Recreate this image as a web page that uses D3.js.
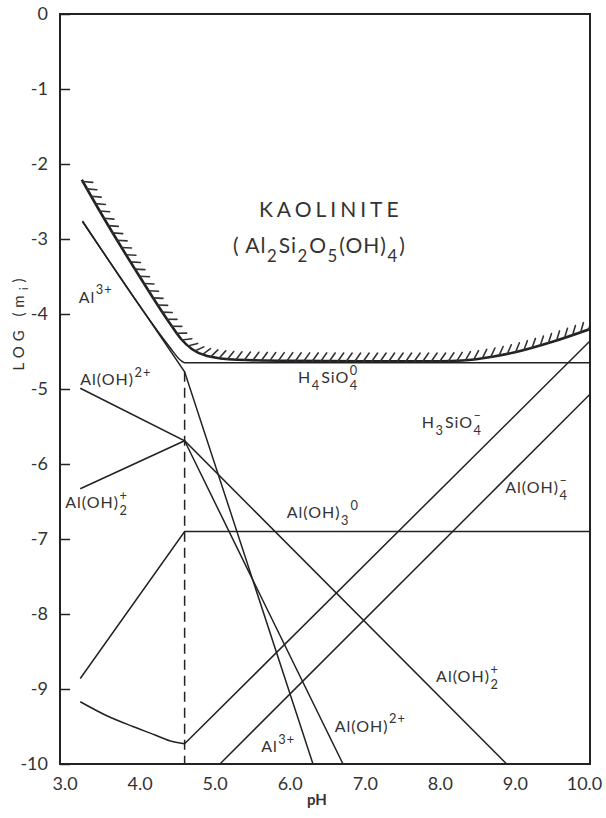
<!DOCTYPE html>
<html>
<head>
<meta charset="utf-8">
<script src="https://cdn.jsdelivr.net/npm/d3@7"></script>
<style>
  body { margin: 0; background: #fff; }
  text { font-family: "Lato", "Noto Sans", sans-serif; fill: #333; }
</style>
</head>
<body>
<svg id="chart" width="606" height="818"></svg>
<script>
// ---- axis ticks ----
const xTicks = [3, 4, 5, 6, 7, 8, 9, 10];
const xTickLabels = ["3.0", "4.0", "5.0", "6.0", "7.0", "8.0", "9.0", "10.0"];
const yTicks = [0, -1, -2, -3, -4, -5, -6, -7, -8, -9, -10];
const yTickLabels = ["0", "-1", "-2", "-3", "-4", "-5", "-6", "-7", "-8", "-9", "-10"];

// ---- species curves: [pH, log m] ----
const pHBreak = 4.6;
const kaoliniteBoundary = [
  [3.23, -2.21], [3.5, -2.68], [4.0, -3.50], [4.4, -4.12], [4.55, -4.33],
  [4.7, -4.47], [4.9, -4.56], [5.3, -4.61], [6.0, -4.625], [7.0, -4.63],
  [8.0, -4.63], [8.3, -4.62], [8.7, -4.57], [9.0, -4.51], [9.5, -4.37], [10.0, -4.20]
];
const h4sio4 = [[3.24, -2.76], [4.0, -3.89], [4.4, -4.44], [4.55, -4.62], [4.6, -4.65], [10.0, -4.65]];
const al3 = [[3.24, -2.77], [4.6, -4.77], [6.31, -10]];
const alOH2plus = [[3.21, -4.99], [4.6, -5.69], [6.71, -10]];
const alOH2 = [[3.21, -6.33], [4.6, -5.69], [8.89, -10]];
const alOH3 = [[3.21, -8.86], [4.6, -6.90], [10.0, -6.90]];
const h3sio4 = [[3.21, -9.17], [3.55, -9.35], [3.91, -9.50], [4.2, -9.61], [4.4, -9.69], [4.6, -9.73], [10.0, -4.36]];
const alOH4 = [[5.07, -10], [10.0, -5.07]];

// ---- species labels: parts + anchor in (pH, log m) ----
const speciesLabels = [
  { at: [3.19, -3.85], parts: [["Al"], ["3+", "sup"]] },
  { at: [3.21, -4.95], parts: [["Al(OH)"], ["2+", "sup"]] },
  { at: [6.11, -4.92], parts: [["H"], ["4", "sub"], ["SiO"], [["0", "4"], "subsup"]] },
  { at: [7.76, -5.52], parts: [["H"], ["3", "sub"], ["SiO"], [["\u2013", "4"], "subsup"]] },
  { at: [8.87, -6.39], parts: [["Al(OH)"], [["\u2013", "4"], "subsup"]] },
  { at: [3.01, -6.59], parts: [["Al(OH)"], [["+", "2"], "subsup"]] },
  { at: [5.96, -6.72], parts: [["Al(OH)"], ["3", "sub"], ["0", "sup"]] },
  { at: [7.95, -8.91], parts: [["Al(OH)"], [["+", "2"], "subsup"]] },
  { at: [6.60, -9.57], parts: [["Al(OH)"], ["2+", "sup"]] },
  { at: [5.62, -9.84], parts: [["Al"], ["3+", "sup"]] }
];

const svg = d3.select("#chart");
const pLeft = 60, pRight = 590, pTop = 14, pBottom = 764;
const x = d3.scaleLinear().domain([2.94, 10]).range([pLeft, pRight]);
const y = d3.scaleLinear().domain([0, -10]).range([pTop, pBottom]);

svg.append("defs").append("clipPath").attr("id", "plot")
  .append("rect").attr("x", pLeft).attr("y", pTop)
  .attr("width", pRight - pLeft).attr("height", pBottom - pTop);

const plot = svg.append("g").attr("clip-path", "url(#plot)");
const line = d3.line().x(d => x(d[0])).y(d => y(d[1]));
const smooth = d3.line().x(d => x(d[0])).y(d => y(d[1])).curve(d3.curveMonotoneX);

// species lines
[al3, alOH2plus, alOH2, alOH3, alOH4].forEach(s => {
  plot.append("path").attr("d", line(s))
    .attr("fill", "none").attr("stroke", "#222").attr("stroke-width", 1.5);
});
plot.append("path").attr("d", smooth(h3sio4.slice(0, 6)) + line(h3sio4.slice(5)).replace("M", "L"))
  .attr("fill", "none").attr("stroke", "#222").attr("stroke-width", 1.5);
plot.append("path").attr("d", smooth(h4sio4))
  .attr("fill", "none").attr("stroke", "#222").attr("stroke-width", 1.5);

// boundary between congruent and incongruent regimes
plot.append("line")
  .attr("x1", x(pHBreak)).attr("x2", x(pHBreak))
  .attr("y1", y(-4.77)).attr("y2", y(-10))
  .attr("stroke", "#222").attr("stroke-width", 1.5)
  .attr("stroke-dasharray", "10,6");

// kaolinite saturation boundary with hatching on the supersaturated side
const boundary = plot.append("path").attr("d", smooth(kaoliniteBoundary))
  .attr("fill", "none").attr("stroke", "#222").attr("stroke-width", 2.6);
const node = boundary.node();
const total = node.getTotalLength();
const hatchG = plot.append("g").attr("stroke", "#333").attr("stroke-width", 1.6)
  .attr("stroke-linecap", "round");
const rot = -55 * Math.PI / 180, hl = 10;
for (let s = 2; s < total; s += 8.5) {
  const p = node.getPointAtLength(s);
  const q = node.getPointAtLength(Math.min(total, s + 0.8));
  const th = Math.atan2(q.y - p.y, q.x - p.x) + rot;
  hatchG.append("line")
    .attr("x1", p.x).attr("y1", p.y)
    .attr("x2", p.x + hl * Math.cos(th)).attr("y2", p.y + hl * Math.sin(th));
}

// frame
svg.append("rect").attr("x", pLeft).attr("y", pTop)
  .attr("width", pRight - pLeft).attr("height", pBottom - pTop)
  .attr("fill", "none").attr("stroke", "#222").attr("stroke-width", 2);

// y axis: inward ticks, labels on the left
const yAxis = svg.append("g").attr("transform", `translate(${pLeft},0)`)
  .call(d3.axisLeft(y).tickValues(yTicks).tickSizeInner(-10).tickSizeOuter(0)
    .tickPadding(12).tickFormat((d, i) => yTickLabels[i]));
yAxis.select(".domain").remove();
yAxis.selectAll("line").attr("stroke", "#222").attr("stroke-width", 1.5);
yAxis.selectAll("text").attr("font-size", 18).attr("fill", "#555")
  .style("font-family", "Lato, sans-serif");

// x axis: labels only; the last label is nudged inside the page edge
const xAxis = svg.append("g").attr("transform", `translate(0,${pBottom})`)
  .call(d3.axisBottom(x).tickValues(xTicks).tickSize(0).tickPadding(13)
    .tickFormat((d, i) => xTickLabels[i]));
xAxis.select(".domain").remove();
xAxis.selectAll("text").attr("font-size", 18).attr("fill", "#555")
  .style("font-family", "Lato, sans-serif")
  .attr("dx", d => d === 10 ? -6 : 0);

// rich text with subscripts / superscripts
function rich(parent, px, py, parts, size, opts = {}) {
  const g = parent.append("g");
  const small = size * 0.8;
  let cx = 0;
  parts.forEach(p => {
    const role = p[1];
    if (role === "subsup") {
      const a = g.append("text").attr("x", cx).attr("y", -size * 0.52)
        .attr("font-size", small).text(p[0][0]);
      const b = g.append("text").attr("x", cx).attr("y", size * 0.42)
        .attr("font-size", small).text(p[0][1]);
      cx += Math.max(a.node().getComputedTextLength(), b.node().getComputedTextLength()) + 1;
    } else {
      const fs = role ? small : size;
      const dy = role === "sub" ? size * 0.42 : role === "sup" ? -size * 0.52 : 0;
      const t = g.append("text").attr("x", cx).attr("y", dy)
        .attr("font-size", fs).text(p[0]);
      if (opts.spacing) t.attr("letter-spacing", opts.spacing);
      cx += t.node().getComputedTextLength() + (role ? 1 : 0.5);
    }
  });
  const ox = opts.anchor === "middle" ? px - cx / 2 : px;
  g.attr("transform", `translate(${ox},${py})`);
  return g;
}

speciesLabels.forEach(l => rich(svg, x(l.at[0]), y(l.at[1]), l.parts, 16, { spacing: 1 }));

// mineral name and formula
rich(svg, 331, 217, [["KAOLINITE"]], 21, { anchor: "middle", spacing: 4 });
rich(svg, 233, 253, [["( Al"], ["2", "sub"], ["Si"], ["2", "sub"], ["O"], ["5", "sub"],
  ["(OH)"], ["4", "sub"], [")"]], 21, { spacing: 1 });

// axis titles
const yt = svg.append("g").attr("transform", "translate(24,322) rotate(-90)");
const ytt = yt.append("text").attr("text-anchor", "middle").attr("font-size", 15)
  .attr("letter-spacing", 5).attr("fill", "#444");
ytt.append("tspan").text("LOG (m");
ytt.append("tspan").attr("font-size", 12).attr("dy", 4).text("i");
ytt.append("tspan").attr("dy", -4).text(")");

svg.append("text").attr("x", 317).attr("y", 805).attr("text-anchor", "middle")
  .attr("font-size", 15).attr("font-weight", "bold").attr("fill", "#222").text("pH");
</script>
</body>
</html>
